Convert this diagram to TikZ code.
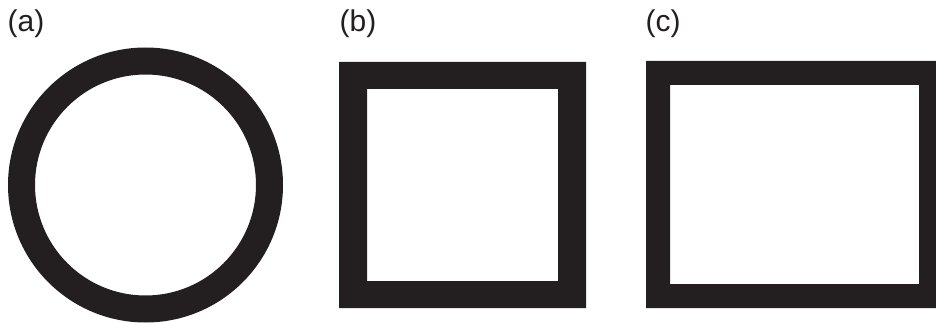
\documentclass[tikz,border=0pt]{standalone}
\usepackage{fontspec}
\setmainfont{Liberation Sans}
\usepackage{tikz}
\definecolor{ink}{HTML}{231F20}

\begin{document}
\begin{tikzpicture}[x=1pt,y=-1pt,
  panel/.style={font=\fontsize{30}{36}\selectfont,anchor=base west,
    inner sep=0pt,text=ink},
  outline/.style={fill=ink,even odd rule}]
  \useasboundingbox (0,0) rectangle (936,323);

  % Panel labels, one per outline.
  \foreach \px/\lab in {7.5/a,339.5/b,645.5/c}
  {
    \node[panel] (lab\lab) at (\px,31.5) {(\lab)};
  }

  % (a) ring: outer and inner circles, filled between.
  \fill[outline] (145.5,185) circle[radius=137.5]
    (145.5,185) circle[radius=110.5];
  % (b) square frame.
  \fill[outline] (339,62) rectangle (586,308)
    (367,89) rectangle (558,281);
  % (c) wider frame, cut at the right edge.
  \fill[outline] (646,61) rectangle (936,308)
    (670,85) rectangle (919,284);
\end{tikzpicture}
\end{document}
